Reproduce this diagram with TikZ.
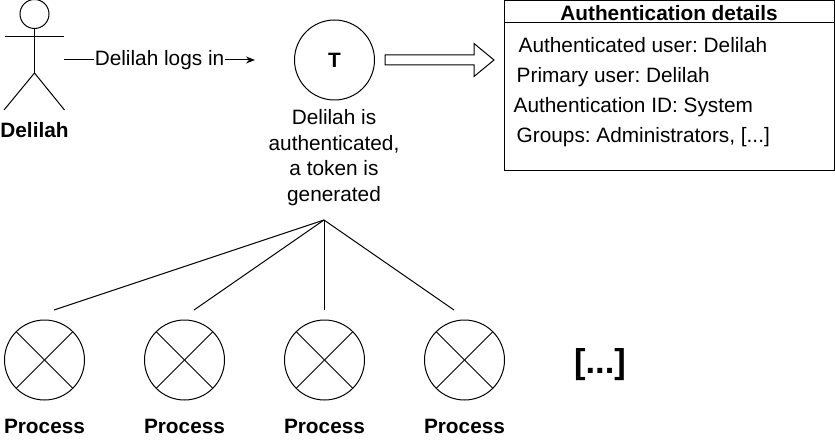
\documentclass[tikz,border=0pt]{standalone}
\usepackage{fontspec}
\setmainfont{Liberation Sans}
\frenchspacing
\usetikzlibrary{arrows.meta}
\tikzset{
  x=1pt,y=-1pt,
  line/.style={draw=black,line width=1pt},
  lbl/.style={inner sep=0pt,font=\fontsize{20.8}{25.6}\selectfont,align=center},
  blbl/.style={inner sep=0pt,font=\fontsize{20.8}{25.6}\selectfont\bfseries,align=center},
  row/.style={inner sep=0pt,anchor=base west,font=\fontsize{20.8}{25.6}\selectfont},
  circ/.style={circle,draw=black,line width=1pt,minimum size=80pt,inner sep=0pt},
  proc/.style={circ,path picture={
    \draw[line width=1pt] (path picture bounding box.north west) -- (path picture bounding box.south east);
    \draw[line width=1pt] (path picture bounding box.north east) -- (path picture bounding box.south west);}},
}
\begin{document}
\begin{tikzpicture}
\useasboundingbox (0,0) rectangle (835,441);
% actor
\node[circle,draw=black,line width=1pt,minimum size=29pt,inner sep=0pt] (head) at (34.5,14) {};
\coordinate (hip) at (34.5,73);
\coordinate (armL) at (5,37);
\coordinate (armR) at (64,37);
\coordinate (legL) at (4,110);
\coordinate (legR) at (64.5,110);
\draw[line] (head.south) -- (hip);
\draw[line] (armL) -- (armR);
\draw[line] (legL) -- (hip) -- (legR);
\node[blbl] (actorname) at (34.5,130) {Delilah};
% login arrow
\coordinate (logA) at (64,60);
\coordinate (logB) at (255,60);
\draw[line,-{Stealth[length=9pt,width=7pt]}] (logA) -- (logB)
  node[midway,lbl,fill=white,inner xsep=1pt,inner ysep=2pt] (logs) {Delilah logs in};
% token
\node[circ] (token) at (334.5,60) {};
\node[blbl] (t) at (334.5,60) {T};
\node[lbl] (desc) at (334,157.5) {Delilah is\\authenticated,\\a token is\\generated};
% hollow arrow
\draw[line] (385,55) -- (474,55) -- (474,43.5) -- (494,60) -- (474,76.5) -- (474,65) -- (385,65) -- cycle;
% box
\node[draw=black,line width=1pt,minimum width=330pt,minimum height=169.5pt,inner sep=0pt] (box) at (669.5,85.5) {};
\coordinate (hdL) at (505,23);
\coordinate (hdR) at (835,23);
\draw[line] (hdL) -- (hdR);
\node[blbl] (title) at (669,13) {Authentication details};
\node[row] (r1) at (518.5,52.7) {Authenticated user: Delilah};
\node[row] (r2) at (516.5,82.7) {Primary user: Delilah};
\node[row] (r3) at (513.5,112.7) {Authentication ID: System};
\node[row] (r4) at (516.5,142.7) {Groups: Administrators, [...]};
% processes
\coordinate (hub) at (324,220);
\coordinate (e1) at (54,310);
\coordinate (e2) at (194,310);
\coordinate (e3) at (324,310);
\coordinate (e4) at (454,310);
\foreach \e in {e1,e2,e3,e4} \draw[line] (hub) -- (\e);
\node[proc] (p1) at (44.5,360) {};
\node[proc] (p2) at (184.5,360) {};
\node[proc] (p3) at (324.5,360) {};
\node[proc] (p4) at (464.5,360) {};
\node[blbl] (l1) at (44.5,426) {Process};
\node[blbl] (l2) at (184.5,426) {Process};
\node[blbl] (l3) at (324.5,426) {Process};
\node[blbl] (l4) at (464.5,426) {Process};
\node[inner sep=0pt,font=\fontsize{34.5}{38}\selectfont\bfseries] (more) at (600,365) {[...]};
\end{tikzpicture}
\end{document}
